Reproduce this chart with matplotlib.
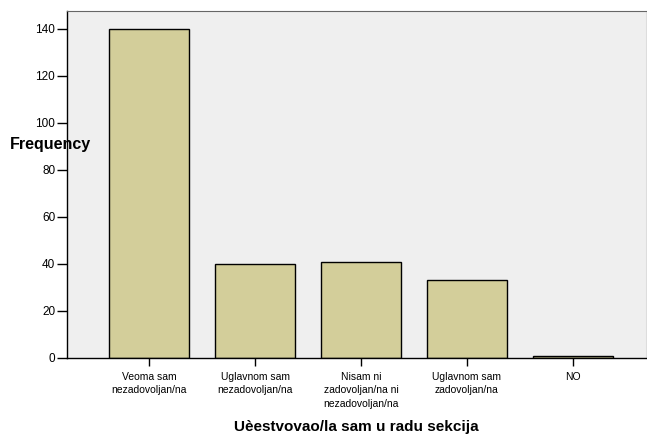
import matplotlib
matplotlib.use("Agg")
import matplotlib.pyplot as plt

categories = ["Veoma sam\nnezadovoljan/na", "Uglavnom sam\nnezadovoljan/na",
              "Nisam ni\nzadovoljan/na ni\nnezadovoljan/na", "Uglavnom sam\nzadovoljan/na", "NO"]
values = [140, 40, 41, 33, 1]
yticks = [0, 20, 40, 60, 80, 100, 120, 140]

plt.rcParams['font.family'] = ['Liberation Sans', 'DejaVu Sans']

fig = plt.figure(figsize=(6.47, 4.34), dpi=100)
ax = fig.add_axes([67/647, 1-358/434, (646-67)/647, (358-11)/434])
ax.set_facecolor('#EFEFEF')
x = list(range(len(values)))
ax.bar(x, values, width=0.755, color='#D3CE9A', edgecolor='black', linewidth=1.0)
ax.set_xlim(-0.774, 4.689)
ax.set_ylim(0, 147.6)
ax.set_yticks(yticks)
ax.set_yticklabels([str(t) for t in yticks], fontsize=8.5)
ax.set_xticks(x)
ax.set_xticklabels(categories, fontsize=7.5, linespacing=1.45)
ax.tick_params(axis='y', length=7, width=1, pad=1.5)
ax.tick_params(axis='x', length=6, width=1, pad=4)
ax.spines['left'].set_color('black')
ax.spines['bottom'].set_color('black')
ax.spines['top'].set_color('#666666')
ax.spines['right'].set_color('#DDDDDD')
ax.spines['left'].set_linewidth(1)
ax.spines['bottom'].set_linewidth(1)
fig.text(10/647, 1-145/434, "Frequency", fontsize=11.5, fontweight='bold', va='center', ha='left')
fig.text((67+646)/2/647, 1-427/434, "Uèestvovao/la sam u radu sekcija", fontsize=11,
         fontweight='bold', ha='center', va='center')
fig.savefig("out.png", dpi=100)
